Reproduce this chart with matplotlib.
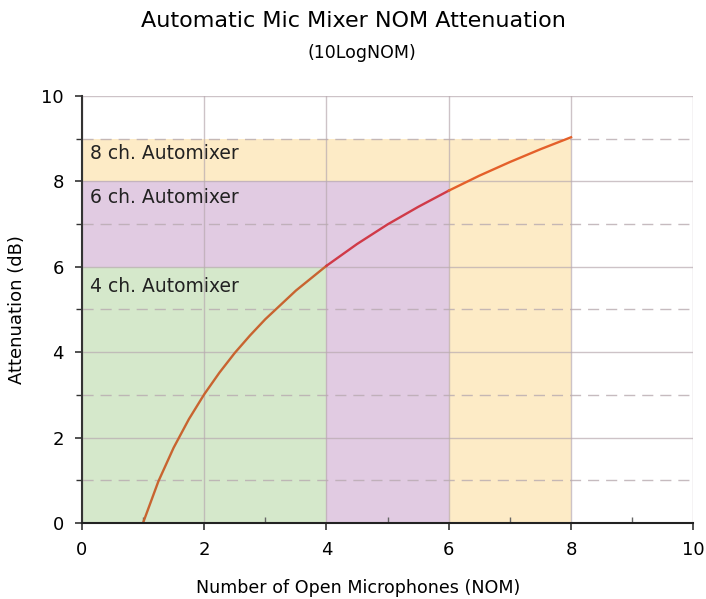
import matplotlib.pyplot as plt
import numpy as np

# данные кривой 10*log(NOM)
nom = [1, 1.25, 1.5, 1.75, 2, 2.25, 2.5, 2.75, 3, 3.5, 4, 4.5, 5, 5.5, 6, 6.5, 7, 7.5, 8]
atten = [0.0, 0.97, 1.76, 2.43, 3.01, 3.52, 3.98, 4.39, 4.77, 5.44, 6.02,
         6.53, 6.99, 7.40, 7.78, 8.13, 8.45, 8.75, 9.03]

# зоны автомикшеров: ширина по x, высота по y
zone_x = [8, 6, 4]
zone_y = [9, 8, 6]
zone_labels = ['8 ch. Automixer', '6 ch. Automixer', '4 ch. Automixer']
zone_colors = ['#fdebc6', '#e1cbe2', '#d5e8cb']

fig = plt.figure(figsize=(7.06, 5.99), dpi=100)
ax = fig.add_axes([0.116, 0.127, 0.866, 0.713])

for w, h, c in zip(zone_x, zone_y, zone_colors):
    ax.fill_between([0, w], 0, h, color=c, linewidth=0, zorder=1)

# подписи зон
ax.text(0.13, 8.65, zone_labels[0], fontsize=13.5, va='center', color='#222222', zorder=5)
ax.text(0.13, 7.63, zone_labels[1], fontsize=13.5, va='center', color='#222222', zorder=5)
ax.text(0.13, 5.53, zone_labels[2], fontsize=13.5, va='center', color='#222222', zorder=5)

# кривая - три куска разного цвета
x = np.array(nom)
y = np.array(atten)
i4 = nom.index(4)
i6 = nom.index(6)
ax.plot(x[:i4 + 1], y[:i4 + 1], color='#c86430', linewidth=1.7, zorder=4)
ax.plot(x[i4:i6 + 1], y[i4:i6 + 1], color='#d03a48', linewidth=1.7, zorder=4)
ax.plot(x[i6:], y[i6:], color='#e4602a', linewidth=1.7, zorder=4)

ax.set_xlim(0, 10)
ax.set_ylim(0, 10)
ax.set_xticks([0, 2, 4, 6, 8, 10])
ax.set_yticks([0, 2, 4, 6, 8, 10])
ax.set_xticks([1, 3, 5, 7, 9], minor=True)
ax.set_yticks([1, 3, 5, 7, 9], minor=True)
ax.grid(which='major', color='#b8aab0', linewidth=1, alpha=0.7, zorder=2)
ax.grid(which='minor', axis='y', color='#b8aab0', linewidth=1, linestyle=(0, (8, 5)), alpha=0.8, zorder=2)
ax.set_axisbelow(False)
ax.tick_params(which='major', length=5, width=1.2, labelsize=13, pad=8, colors='#333333', labelcolor='black')
ax.tick_params(axis='y', which='minor', length=4, width=1, colors='#333333')
ax.tick_params(axis='x', which='minor', length=4, width=1, direction='in', colors='#666666')

for s in ['top', 'right']:
    ax.spines[s].set_visible(False)
ax.spines['left'].set_color('#333333')
ax.spines['bottom'].set_color('#222222')
ax.spines['left'].set_linewidth(1.5)
ax.spines['bottom'].set_linewidth(1.5)
ax.spines['left'].set_zorder(6)
ax.spines['bottom'].set_zorder(6)

ax.set_ylabel('Attenuation (dB)', fontsize=13, labelpad=11)

fig.text(0.507, 0.018, 'Number of Open Microphones (NOM)', ha='center', va='center', fontsize=12.6)
fig.text(0.5, 0.965, 'Automatic Mic Mixer NOM Attenuation', ha='center', va='center', fontsize=16)
fig.text(0.512, 0.912, '(10LogNOM)', ha='center', va='center', fontsize=12.5)

fig.savefig('out.png', dpi=100)
